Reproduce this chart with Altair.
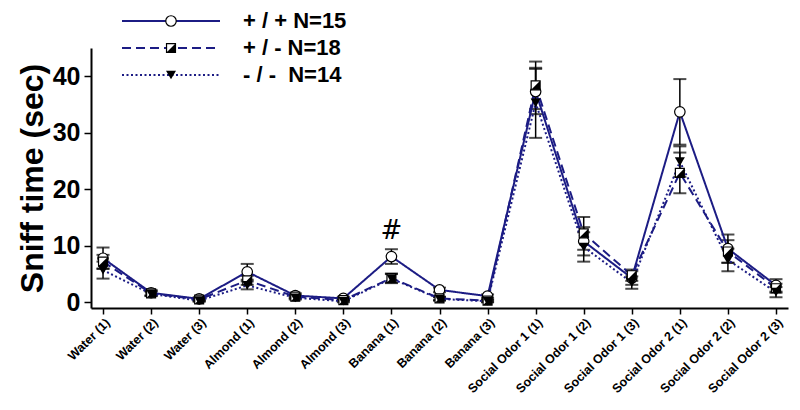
import altair as alt
import pandas as pd

categories = ["Water (1)", "Water (2)", "Water (3)", "Almond (1)", "Almond (2)", "Almond (3)",
              "Banana (1)", "Banana (2)", "Banana (3)", "Social Odor 1 (1)", "Social Odor 1 (2)",
              "Social Odor 1 (3)", "Social Odor 2 (1)", "Social Odor 2 (2)", "Social Odor 2 (3)"]

series_names = ["+ / + N=15", "+ / - N=18", "- / -\u00a0\u00a0N=14"]

wt_mean = [7.8, 1.7, 0.6, 5.4, 1.2, 0.7, 8.1, 2.2, 1.1, 37.3, 10.8, 4.3, 33.7, 9.5, 3.0]
wt_sem = [1.9, 0.5, 0.3, 1.4, 0.4, 0.3, 1.3, 0.4, 0.3, 4.0, 2.5, 1.2, 5.8, 2.5, 1.1]
het_mean = [7.2, 1.6, 0.5, 3.9, 1.0, 0.4, 4.3, 0.7, 0.3, 38.4, 12.2, 4.8, 22.9, 9.0, 2.5]
het_sem = [1.2, 0.4, 0.2, 0.8, 0.3, 0.2, 0.8, 0.3, 0.2, 4.2, 2.9, 1.0, 3.6, 2.0, 0.8]
ko_mean = [5.7, 1.5, 0.3, 3.0, 0.8, 0.2, 4.2, 0.6, 0.2, 35.3, 9.8, 3.5, 24.9, 7.5, 1.8]
ko_sem = [1.5, 0.4, 0.2, 0.7, 0.3, 0.2, 0.8, 0.3, 0.2, 6.2, 2.6, 1.1, 2.7, 2.0, 0.9]

y_ticks = [0, 10, 20, 30, 40]
annot_cat = ["Banana (1)"]
annot_y = [12.6]
annot_text = ["#"]

NAVY = "#1c1c84"
FONT = "Liberation Sans"

rows = []
for name, means, sems in zip(series_names, [wt_mean, het_mean, ko_mean], [wt_sem, het_sem, ko_sem]):
    for c, m, s in zip(categories, means, sems):
        rows.append({"series": name, "cat": c, "mean": m, "lo": m - s, "hi": m + s})
df = pd.DataFrame(rows)

xenc = alt.X("cat:N", sort=categories,
             scale=alt.Scale(type="point", padding=0.25),
             axis=alt.Axis(title=None, labelAngle=-45, labelFontSize=12.5, labelFontWeight="bold",
                           labelFont=FONT, labelColor="black", domainColor="black", domainWidth=2,
                           tickColor="black", tickWidth=1.5, tickSize=6, labelPadding=2, grid=False))
yscale = alt.Scale(domain=[-1, 45], nice=False, zero=False)
yaxis = alt.Axis(title="Sniff time (sec)", values=y_ticks, titleFontSize=32, titleFontWeight="bold",
                 titleFont=FONT, titleColor="black", labelFontSize=25, labelFontWeight="bold",
                 labelFont=FONT, labelColor="black", domainColor="black", domainWidth=2,
                 tickColor="black", tickWidth=1.5, tickSize=7, labelPadding=4, titlePadding=3, grid=False)

base = alt.Chart(df)

err = base.mark_rule(color="black", strokeWidth=1.5).encode(
    x=xenc, y=alt.Y("lo:Q", scale=yscale, axis=yaxis), y2="hi:Q")
cap_lo = base.mark_tick(color="black", size=13, thickness=2).encode(x=xenc, y=alt.Y("lo:Q", scale=yscale))
cap_hi = base.mark_tick(color="black", size=13, thickness=2).encode(x=xenc, y=alt.Y("hi:Q", scale=yscale))

dash_scale = alt.Scale(domain=series_names, range=[[1, 0], [9, 5], [2, 2.5]])
lines = base.mark_line(color=NAVY, strokeWidth=2).encode(
    x=xenc, y=alt.Y("mean:Q", scale=yscale),
    strokeDash=alt.StrokeDash("series:N", scale=dash_scale, legend=None),
    detail="series:N")

half_tri = "M1,-1L1,1L-1,1Z"

p_wt = alt.Chart(df[df.series == series_names[0]]).mark_point(
    shape="circle", filled=True, fill="white", stroke="black", strokeWidth=1.2, size=110, opacity=1).encode(
    x=xenc, y=alt.Y("mean:Q", scale=yscale))
p_het_sq = alt.Chart(df[df.series == series_names[1]]).mark_point(
    shape="square", filled=True, fill="white", stroke="black", strokeWidth=1.2, size=80, opacity=1).encode(
    x=xenc, y=alt.Y("mean:Q", scale=yscale))
p_het_tri = alt.Chart(df[df.series == series_names[1]]).mark_point(
    shape=half_tri, filled=True, fill="black", size=80, opacity=1).encode(
    x=xenc, y=alt.Y("mean:Q", scale=yscale))
p_ko = alt.Chart(df[df.series == series_names[2]]).mark_point(
    shape="triangle-down", filled=True, fill="black", size=100, opacity=1).encode(
    x=xenc, y=alt.Y("mean:Q", scale=yscale))

annot = alt.Chart(pd.DataFrame({"cat": annot_cat, "y": annot_y, "t": annot_text})).mark_text(
    fontSize=26, font="DejaVu Sans", color="black", baseline="middle").encode(
    x=xenc, y=alt.Y("y:Q", scale=yscale), text="t:N")

# legend (drawn manually, above the plot area)
leg_layers = []
leg_y = [-27, 0, 27]
leg_dash = [[1, 0], [9, 5], [2, 2.5]]
for i, name in enumerate(series_names):
    d = alt.Data(values=[{"label": name}])
    yv = leg_y[i]
    leg_layers.append(alt.Chart(d).mark_rule(color=NAVY, strokeWidth=2.2, strokeDash=leg_dash[i]).encode(
        x=alt.value(31), x2=alt.value(129), y=alt.value(yv)))
    if i == 0:
        leg_layers.append(alt.Chart(d).mark_point(shape="circle", filled=True, fill="white", stroke="black",
                                                  strokeWidth=1.2, size=110, opacity=1).encode(
            x=alt.value(80), y=alt.value(yv)))
    elif i == 1:
        leg_layers.append(alt.Chart(d).mark_point(shape="square", filled=True, fill="white", stroke="black",
                                                  strokeWidth=1.2, size=80, opacity=1).encode(
            x=alt.value(80), y=alt.value(yv)))
        leg_layers.append(alt.Chart(d).mark_point(shape=half_tri, filled=True, fill="black", size=80,
                                                  opacity=1).encode(x=alt.value(80), y=alt.value(yv)))
    else:
        leg_layers.append(alt.Chart(d).mark_point(shape="triangle-down", filled=True, fill="black", size=100,
                                                  opacity=1).encode(x=alt.value(80), y=alt.value(yv)))
    leg_layers.append(alt.Chart(d).mark_text(align="left", baseline="middle", fontSize=22, fontWeight="bold",
                                             font=FONT, color="black").encode(
        x=alt.value(152), y=alt.value(yv), text="label:N"))

chart = alt.layer(err, cap_lo, cap_hi, lines, p_wt, p_het_sq, p_het_tri, p_ko, annot, *leg_layers).properties(
    width=697, height=260,
    autosize=alt.AutoSizeParams(type="none"),
    padding={"left": 83, "top": 40, "right": 4, "bottom": 94},
    background="white",
).configure_view(stroke=None)

chart.save("out.html", embed_options={"renderer": "svg", "actions": False})
